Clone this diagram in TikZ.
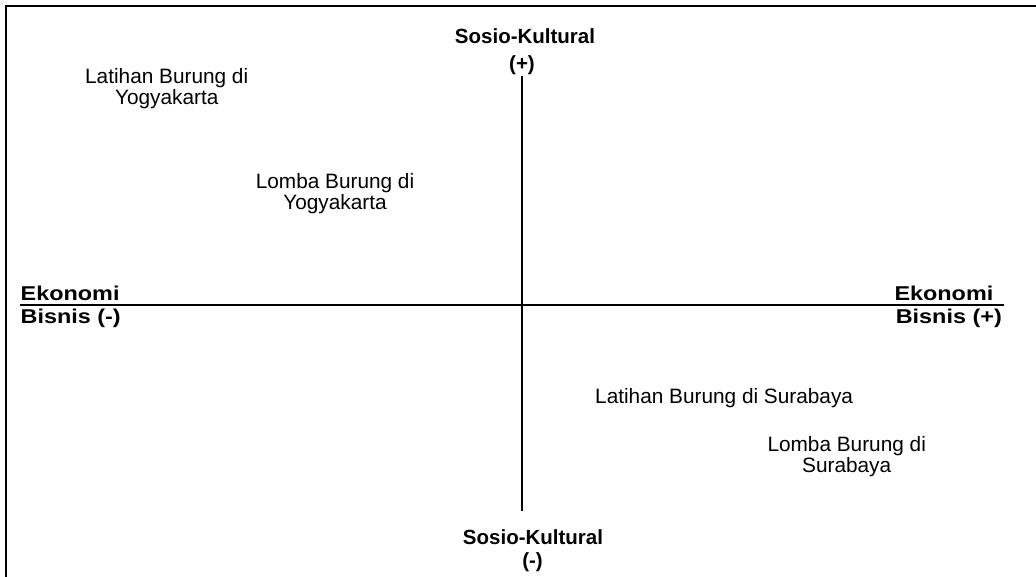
\documentclass[tikz,border=0pt]{standalone}
\usepackage{fontspec}
\setmainfont{Liberation Sans}
\newfontfamily\axfont[FakeStretch=1.17]{Liberation Sans}
\begin{document}
\begin{tikzpicture}[x=1pt,y=-1pt,
  lbl/.style={font=\fontsize{20.8}{24}\selectfont, inner sep=0pt, anchor=base},
  axl/.style={font=\axfont\bfseries\fontsize{20}{24}\selectfont, inner sep=0pt},
  skl/.style={font=\bfseries\fontsize{20.5}{24}\selectfont, inner sep=0pt, anchor=base},
  frame/.style={line width=2.3pt},
  axis/.style={line width=1.6pt}]
\useasboundingbox (0,0) rectangle (1036,576);
% frame (left and top edges only)
\coordinate (fbl) at (6.2,580);
\coordinate (ftl) at (6.2,6.2);
\coordinate (ftr) at (1040,6.2);
\draw[frame] (fbl) -- (ftl) -- (ftr);
% axes
\coordinate (vt) at (522,76);
\coordinate (vb) at (522,511);
\coordinate (hl) at (20,305);
\coordinate (hr) at (1004,305);
\draw[axis] (vt) -- (vb);
\draw[axis] (hl) -- (hr);
% axis labels
\node[skl] (st1) at (525,43.3) {Sosio-Kultural};
\node[skl] (st2) at (522,70.8) {(+)};
\node[skl] (sb1) at (533,544.3) {Sosio-Kultural};
\node[skl] (sb2) at (532.5,567.5) {(-)};
\node[axl, anchor=base west] (el1) at (20.5,300) {Ekonomi};
\node[axl, anchor=base west] (el2) at (20.5,323.5) {Bisnis (-)};
\node[axl, anchor=base east] (er1) at (993.5,300) {Ekonomi};
\node[axl, anchor=base east] (er2) at (1002,323.5) {Bisnis (+)};
% items
\node[lbl] (ly1) at (166.7,83.3) {Latihan Burung di};
\node[lbl] (ly2) at (166.7,104) {Yogyakarta};
\node[lbl] (my1) at (335,188.3) {Lomba Burung di};
\node[lbl] (my2) at (335,209.3) {Yogyakarta};
\node[lbl, anchor=base west] (ls) at (595,403) {Latihan Burung di Surabaya};
\node[lbl] (ms1) at (846.7,451.7) {Lomba Burung di};
\node[lbl] (ms2) at (846.7,472.3) {Surabaya};
\end{tikzpicture}
\end{document}
